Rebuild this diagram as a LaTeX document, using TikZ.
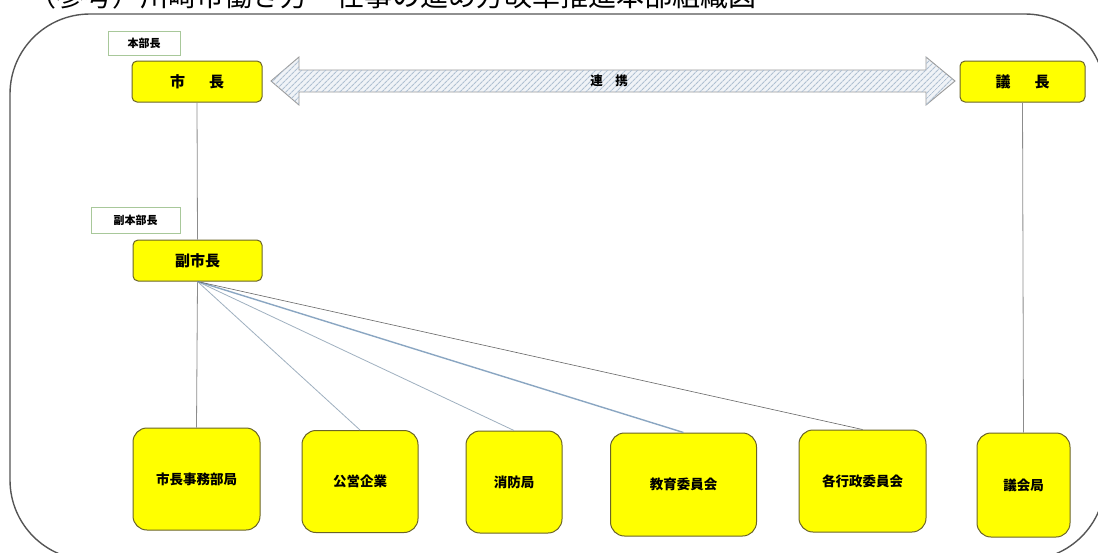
\documentclass[tikz,border=0pt]{standalone}
\usepackage{fontspec}
\setmainfont{Noto Sans CJK JP}
\usetikzlibrary{patterns.meta}
\definecolor{boxyellow}{HTML}{FFFF00}
\definecolor{boxedge}{HTML}{6B6428}
\definecolor{labeledge}{HTML}{A8C89A}
\definecolor{outeredge}{HTML}{555555}
\definecolor{hatch}{HTML}{AFC0D2}
\definecolor{hatchbg}{HTML}{F0F3F7}
\definecolor{arrowedge}{HTML}{9A9A9A}
\definecolor{connA}{HTML}{8C8C8C}
\definecolor{connB}{HTML}{9FB0C0}
\definecolor{connC}{HTML}{8AA6C2}
\definecolor{connD}{HTML}{666666}
\tikzset{
  topbox/.style={draw=boxedge, fill=boxyellow, rounded corners=5pt, line width=1pt,
    inner sep=0pt, font=\bfseries\fontsize{15}{17}\selectfont},
  botbox/.style={draw=boxedge, fill=boxyellow, rounded corners=14pt, line width=1pt,
    inner sep=0pt, font=\bfseries\fontsize{13.5}{15}\selectfont},
  labelbox/.style={draw=labeledge, fill=white, line width=0.8pt, inner sep=0pt,
    font=\bfseries\fontsize{11}{13}\selectfont},
  conn/.style={draw=connA, line width=0.8pt},
}
\begin{document}
\begin{tikzpicture}[x=1pt,y=-1pt]
\useasboundingbox (0,0) rectangle (1098,552);
\clip (0,0) rectangle (1098,552);
\fill[white] (0,0) rectangle (1098,552);
% title (cut off at top)
\node[anchor=base west, inner sep=0pt, font=\fontsize{28}{30}\selectfont] (title) at (28,6)
  {（参考）川崎市働き方・仕事の進め方改革推進本部組織図};
% outer frame
\draw[outeredge, line width=1.4pt, rounded corners=80pt] (10,14) rectangle (1105,560);
% label boxes
\node[labelbox, minimum width=72, minimum height=24] (hq) at (144,43) {本部長};
\node[labelbox, minimum width=89, minimum height=26] (vhq) at (135.5,220) {副本部長};
% top boxes
\node[topbox, minimum width=130, minimum height=41] (mayor) at (197,81.5) {市\hspace{1.6em}長};
\node[topbox, minimum width=125, minimum height=41] (chair) at (1022.5,81.5) {議\hspace{1.6em}長};
\node[topbox, minimum width=129, minimum height=41] (vmayor) at (197.5,260.5) {副市長};
% bottom boxes
\node[botbox, minimum width=127, minimum height=102] (b1) at (196.5,479) {市長事務部局};
\node[botbox, minimum width=116, minimum height=102] (b2) at (360,481.5) {公営企業};
\node[botbox, minimum width=96, minimum height=102] (b3) at (514,482) {消防局};
\node[botbox, minimum width=146, minimum height=103] (b4) at (683.5,484.5) {教育委員会};
\node[botbox, minimum width=127, minimum height=102] (b5) at (862.5,481) {各行政委員会};
\node[botbox, minimum width=93, minimum height=104] (b6) at (1023.5,485) {議会局};
% liaison arrow
\draw[arrowedge, line width=0.9pt, fill=hatchbg]
  (271,81) -- (299,57) -- (299,70) -- (926,70) -- (926,57) -- (955,81)
  -- (926,105) -- (926,92) -- (299,92) -- (299,105) -- cycle;
\path[pattern={Lines[angle=45,distance=4pt,line width=1.1pt]}, pattern color=hatch]
  (271,81) -- (299,57) -- (299,70) -- (926,70) -- (926,57) -- (955,81)
  -- (926,105) -- (926,92) -- (299,92) -- (299,105) -- cycle;
\node[inner sep=1pt, font=\bfseries\fontsize{12.5}{14}\selectfont] (link) at (609,81) {連\hspace{1em}携};
% connectors
\draw[conn] (mayor.south) -- (vmayor.north);
\draw[conn] (vmayor.south) -- (b1.north);
\draw[draw=connB, line width=0.8pt] (vmayor.south) -- (b2.north);
\draw[draw=connB, line width=0.8pt] (vmayor.south) -- (b3.north);
\draw[draw=connC, line width=1.4pt] (vmayor.south) -- (b4.north);
\draw[draw=connD, line width=0.6pt] (vmayor.south) -- (b5.north);
\draw[conn] (chair.south) -- (b6.north);
\end{tikzpicture}
\end{document}
